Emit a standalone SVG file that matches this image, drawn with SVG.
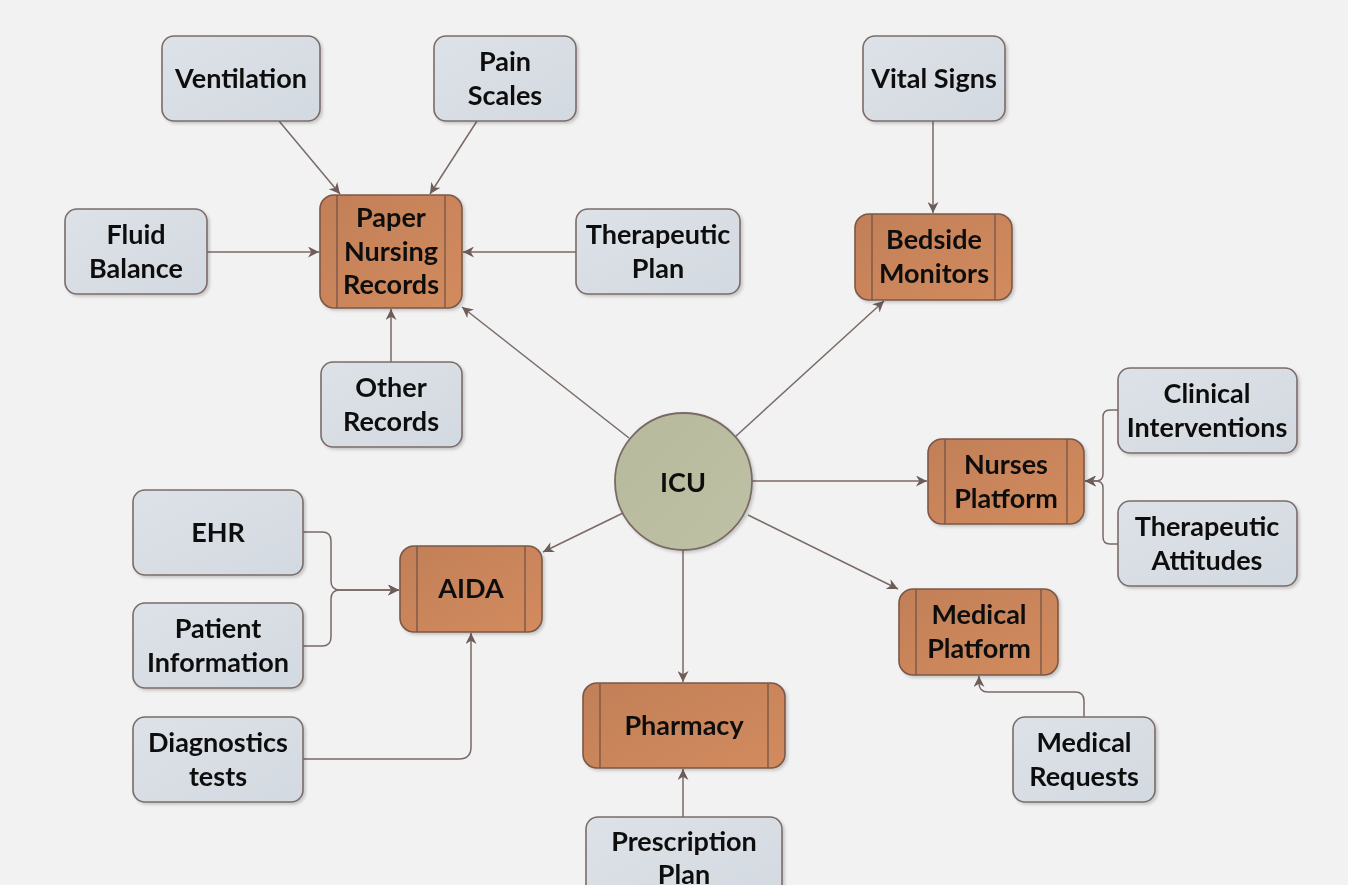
<svg xmlns="http://www.w3.org/2000/svg" width="1348" height="885" viewBox="0 0 1348 885">
<style>
.bg{fill:#f2f2f2}
.g{fill:url(#gg);stroke:#7a6c68;stroke-width:1.6}
.o{fill:url(#og);stroke:#7a5848;stroke-width:1.6}
.ol{stroke:#7a5848;stroke-width:1.4}
.c{fill:url(#cg);stroke:#7a6a66;stroke-width:1.8}
.t{font-family:Lato,"Open Sans",sans-serif;font-weight:700;font-size:27px;fill:#111;text-anchor:middle}
.e{fill:none;stroke:#7a6a66;stroke-width:1.5;marker-end:url(#ah)}
.s{filter:url(#sh)}
</style>
<defs>
<linearGradient id="gg" x1="0" y1="0" x2="1" y2="1"><stop offset="0" stop-color="#dde2e8"/><stop offset="1" stop-color="#d3d9e0"/></linearGradient>
<linearGradient id="og" x1="0" y1="0" x2="1" y2="1"><stop offset="0" stop-color="#c27f58"/><stop offset="1" stop-color="#d28b5d"/></linearGradient>
<linearGradient id="cg" x1="0" y1="0" x2="1" y2="1"><stop offset="0" stop-color="#b6b99b"/><stop offset="1" stop-color="#bfc1a6"/></linearGradient>
<filter id="sh" x="-10%" y="-10%" width="125%" height="130%"><feDropShadow dx="2" dy="2" stdDeviation="1.5" flood-color="#000" flood-opacity="0.18"/></filter>
<marker id="ah" viewBox="0 0 10 10" refX="10" refY="5" markerWidth="11" markerHeight="11" markerUnits="userSpaceOnUse" orient="auto"><path d="M0,0 L10,5 L0,10 L3,5 z" fill="#6e5c58"/></marker>
</defs>
<rect class="bg" width="1348" height="885"/>
<g id="connectors">
<path class="e" d="M629,438 L462,307"/>
<path class="e" d="M735,437 L884,301"/>
<path class="e" d="M752,481 L927,481"/>
<path class="e" d="M748,515 L898,589"/>
<path class="e" d="M683,550 L683,682"/>
<path class="e" d="M623,513 L543,552"/>
<path class="e" d="M279,121 L340,194"/>
<path class="e" d="M477,121 L430,194"/>
<path class="e" d="M207,252 L319,252"/>
<path class="e" d="M576,252 L463,252"/>
<path class="e" d="M391,362 L391,309"/>
<path class="e" d="M933,121 L933,213"/>
<path class="e" d="M1118,410 L1110,410 Q1103,410 1103,417 L1103,474 Q1103,481 1096,481 L1085,481"/>
<path class="e" d="M1118,544 L1110,544 Q1103,544 1103,537 L1103,488 Q1103,481 1096,481 L1085,481"/>
<path class="e" d="M303,532 L322,532 Q331,532 331,541 L331,581 Q331,590 340,590 L399,590"/>
<path class="e" d="M303,646 L322,646 Q331,646 331,637 L331,599 Q331,590 340,590 L399,590"/>
<path class="e" d="M303,759 L459,759 Q471,759 471,747 L471,633"/>
<path class="e" d="M1084,717 L1084,701 Q1084,692 1075,692 L988,692 Q979,692 979,683 L979,676"/>
<path class="e" d="M683,817 L683,769"/>
</g>
<g id="ventilation" class="s"><rect class="g" x="162" y="36" width="158" height="85" rx="12"/><text class="t" x="241" y="88">Ventilation</text></g>
<g id="pain-scales" class="s"><rect class="g" x="434" y="36" width="142" height="85" rx="12"/><text class="t" x="505" y="71">Pain</text><text class="t" x="505" y="105">Scales</text></g>
<g id="vital-signs" class="s"><rect class="g" x="863" y="36" width="142" height="85" rx="12"/><text class="t" x="934" y="88">Vital Signs</text></g>
<g id="fluid-balance" class="s"><rect class="g" x="65" y="209" width="142" height="85" rx="12"/><text class="t" x="136" y="244">Fluid</text><text class="t" x="136" y="278">Balance</text></g>
<g id="therapeutic-plan" class="s"><rect class="g" x="576" y="209" width="164" height="85" rx="12"/><text class="t" x="658" y="244">Therapeutic</text><text class="t" x="658" y="278">Plan</text></g>
<g id="other-records" class="s"><rect class="g" x="321" y="362" width="141" height="85" rx="12"/><text class="t" x="391" y="397">Other</text><text class="t" x="391" y="431">Records</text></g>
<g id="clinical-interventions" class="s"><rect class="g" x="1118" y="368" width="179" height="85" rx="12"/><text class="t" x="1207" y="403">Clinical</text><text class="t" x="1207" y="437">Interventions</text></g>
<g id="therapeutic-attitudes" class="s"><rect class="g" x="1118" y="501" width="179" height="85" rx="12"/><text class="t" x="1207" y="536">Therapeutic</text><text class="t" x="1207" y="570">Attitudes</text></g>
<g id="ehr" class="s"><rect class="g" x="133" y="490" width="170" height="85" rx="12"/><text class="t" x="218" y="542">EHR</text></g>
<g id="patient-information" class="s"><rect class="g" x="133" y="603" width="170" height="85" rx="12"/><text class="t" x="218" y="638">Patient</text><text class="t" x="218" y="672">Information</text></g>
<g id="diagnostics-tests" class="s"><rect class="g" x="133" y="717" width="170" height="85" rx="12"/><text class="t" x="218" y="752">Diagnostics</text><text class="t" x="218" y="786">tests</text></g>
<g id="medical-requests" class="s"><rect class="g" x="1013" y="717" width="142" height="85" rx="12"/><text class="t" x="1084" y="752">Medical</text><text class="t" x="1084" y="786">Requests</text></g>
<g id="prescription-plan" class="s"><rect class="g" x="586" y="817" width="196" height="90" rx="12"/><text class="t" x="684" y="851">Prescription</text><text class="t" x="684" y="884">Plan</text></g>
<g id="paper-nursing-records" class="s"><rect class="o" x="320" y="195" width="142" height="113" rx="14"/><line class="ol" x1="337" y1="195" x2="337" y2="308"/><line class="ol" x1="445" y1="195" x2="445" y2="308"/><text class="t" x="391" y="227">Paper</text><text class="t" x="391" y="261">Nursing</text><text class="t" x="391" y="294">Records</text></g>
<g id="bedside-monitors" class="s"><rect class="o" x="855" y="214" width="157" height="86" rx="14"/><line class="ol" x1="872" y1="214" x2="872" y2="300"/><line class="ol" x1="995" y1="214" x2="995" y2="300"/><text class="t" x="934" y="249">Bedside</text><text class="t" x="934" y="283">Monitors</text></g>
<g id="nurses-platform" class="s"><rect class="o" x="928" y="439" width="156" height="85" rx="14"/><line class="ol" x1="945" y1="439" x2="945" y2="524"/><line class="ol" x1="1067" y1="439" x2="1067" y2="524"/><text class="t" x="1006" y="474">Nurses</text><text class="t" x="1006" y="508">Platform</text></g>
<g id="aida" class="s"><rect class="o" x="400" y="546" width="142" height="86" rx="14"/><line class="ol" x1="417" y1="546" x2="417" y2="632"/><line class="ol" x1="525" y1="546" x2="525" y2="632"/><text class="t" x="471" y="598">AIDA</text></g>
<g id="pharmacy" class="s"><rect class="o" x="583" y="683" width="202" height="85" rx="14"/><line class="ol" x1="600" y1="683" x2="600" y2="768"/><line class="ol" x1="768" y1="683" x2="768" y2="768"/><text class="t" x="684" y="735">Pharmacy</text></g>
<g id="medical-platform" class="s"><rect class="o" x="899" y="589" width="159" height="86" rx="14"/><line class="ol" x1="916" y1="589" x2="916" y2="675"/><line class="ol" x1="1041" y1="589" x2="1041" y2="675"/><text class="t" x="979" y="624">Medical</text><text class="t" x="979" y="658">Platform</text></g>
<g id="icu" class="s"><circle class="c" cx="683.5" cy="481.5" r="68.5"/><text class="t" x="683" y="492">ICU</text></g>
</svg>
